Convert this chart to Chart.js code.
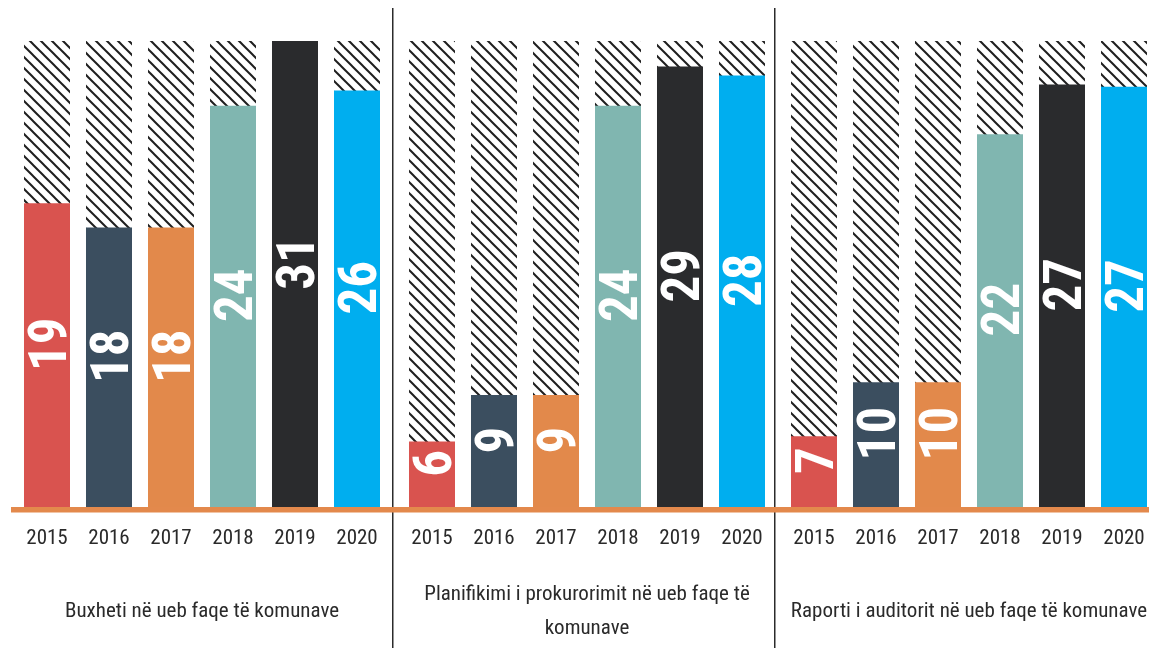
<!DOCTYPE html>
<html><head><meta charset="utf-8">
<script src="https://cdn.jsdelivr.net/npm/chart.js@4.4.0/dist/chart.umd.min.js"></script>
<style>
html,body{margin:0;padding:0;background:#fff;overflow:hidden;width:1149px;height:648px;}
canvas{position:absolute;top:0;}
</style></head><body>
<canvas id="c1" width="392" height="648" style="left:0px"></canvas>
<canvas id="c2" width="382" height="648" style="left:392px"></canvas>
<canvas id="c3" width="381" height="648" style="left:774px"></canvas>
<script>
// ---- data ----
const years = ['2015', '2016', '2017', '2018', '2019', '2020'];
const buxhetiTitle = 'Buxheti në ueb faqe të komunave';
const prokurorimTitle = ['Planifikimi i prokurorimit në ueb faqe të', 'komunave'];
const auditorTitle = 'Raporti i auditorit në ueb faqe të komunave';
// numbers printed on the bars
const buxhetiCounts = [19, 18, 18, 24, 31, 26];
const prokurorimCounts = [6, 9, 9, 24, 29, 28];
const auditorCounts = [7, 10, 10, 22, 27, 27];
// bar lengths as drawn in the picture (on the 0–31 scale of the hatched bars)
const buxhetiBars = [20.2, 18.6, 18.6, 26.7, 31, 27.7];
const prokurorimBars = [4.35, 7.45, 7.45, 26.7, 29.3, 28.7];
const auditorBars = [4.7, 8.3, 8.3, 24.8, 28.1, 27.95];
// hatched background bars (full scale)
const hatchTotals = [31, 31, 31, 31, 31, 31];
const scaleMax = 31;

// ---- styles ----
const yearColors = ['#D9534F', '#3B4E5F', '#E2894B', '#80B6B0', '#2A2B2D', '#00AEEF'];
const FONT = "'Roboto Condensed', 'DejaVu Sans Condensed', sans-serif";
const TEXT = '#2a2a2a';

function makeHatch() {
  const t = document.createElement('canvas');
  t.width = 11; t.height = 11;
  const g = t.getContext('2d');
  g.fillStyle = '#fff'; g.fillRect(0, 0, 11, 11);
  g.strokeStyle = '#1e1e1e'; g.lineWidth = 2; g.lineCap = 'square';
  for (const k of [-1, 0, 1]) {
    g.beginPath(); g.moveTo(k * 11 - 2, -2); g.lineTo(k * 11 + 13, 13); g.stroke();
  }
  return g.createPattern(t, 'repeat');
}
const hatch = makeHatch();

const panelDecor = {
  id: 'panelDecor',
  beforeDraw(chart, args, opts) {
    if (!opts.divider) return;
    const ctx = chart.ctx;
    ctx.save();
    ctx.strokeStyle = '#2b2b2b'; ctx.lineWidth = 1.5;
    ctx.beginPath(); ctx.moveTo(0.75, 8); ctx.lineTo(0.75, chart.height); ctx.stroke();
    ctx.restore();
  },
  afterDatasetsDraw(chart, args, opts) {
    const ctx = chart.ctx, area = chart.chartArea;
    ctx.save();
    ctx.fillStyle = '#E3894C';
    ctx.fillRect(opts.lineStart, area.bottom, chart.width - opts.lineStart, 5.5);
    const meta = chart.getDatasetMeta(0);
    ctx.fillStyle = '#ffffff';
    ctx.font = 'bold 53px ' + FONT;
    ctx.textAlign = 'center';
    ctx.textBaseline = 'alphabetic';
    meta.data.forEach((bar, i) => {
      const cy = (bar.y + bar.base) / 2 - 11;
      ctx.save();
      ctx.translate(bar.x, cy);
      ctx.rotate(-Math.PI / 2);
      ctx.fillText(String(opts.labels[i]), 0, 19);
      ctx.restore();
    });
    ctx.restore();
  }
};

function makeChart(id, title, counts, bars, padL, padR, lineStart, divider, titlePad) {
  return new Chart(document.getElementById(id), {
    type: 'bar',
    data: {
      labels: years,
      datasets: [
        { data: bars, backgroundColor: yearColors, grouped: false, barPercentage: 0.742, categoryPercentage: 1, borderWidth: 0 },
        { data: hatchTotals, backgroundColor: hatch, grouped: false, barPercentage: 0.742, categoryPercentage: 1, borderWidth: 0 }
      ]
    },
    options: {
      responsive: false, animation: false, devicePixelRatio: 1,
      events: [],
      layout: { padding: { left: padL, right: padR, top: 41, bottom: 0 } },
      plugins: {
        legend: { display: false }, tooltip: { enabled: false },
        panelDecor: { labels: counts, lineStart: lineStart, divider: divider }
      },
      scales: {
        x: {
          grid: { display: false, drawTicks: false },
          border: { display: false },
          ticks: { color: TEXT, font: { family: FONT, size: 21 }, padding: 19, maxRotation: 0, autoSkip: false },
          title: { display: true, text: title, color: TEXT, font: { family: FONT, size: 21, lineHeight: 1.62 }, padding: { top: 0, bottom: titlePad } },
          afterFit(s) { s.height = 141; s.paddingLeft = 0; s.paddingRight = 0; }
        },
        y: { display: false, min: 0, max: scaleMax }
      }
    },
    plugins: [panelDecor]
  });
}

makeChart('c1', buxhetiTitle, buxhetiCounts, buxhetiBars, 16, 4, 11, false, 19);
makeChart('c2', prokurorimTitle, prokurorimCounts, prokurorimBars, 9, 1, 0, true, 2);
makeChart('c3', auditorTitle, auditorCounts, auditorBars, 9, 0, 0, true, 19);
</script>
</body></html>
